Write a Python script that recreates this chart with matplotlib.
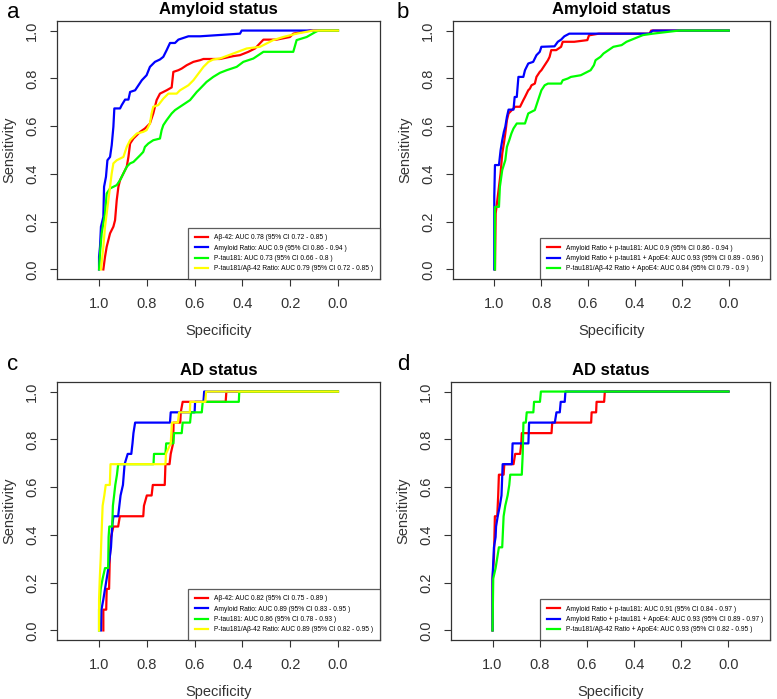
import matplotlib
matplotlib.use("Agg")
import matplotlib.pyplot as plt

plt.rcParams['font.family'] = ['Liberation Sans', 'DejaVu Sans']

# ---- panel a : Amyloid status, single markers ----
a_red_spec = [0.982, 0.975, 0.968, 0.954, 0.940, 0.933, 0.926, 0.919, 0.912, 0.898, 0.884, 0.877, 0.870, 0.856,
              0.828, 0.808, 0.801, 0.787, 0.780, 0.773, 0.766, 0.759, 0.745, 0.717, 0.696, 0.689, 0.668, 0.654,
              0.633, 0.619, 0.605, 0.577, 0.563, 0.494, 0.438, 0.410, 0.375, 0.347, 0.312, 0.257, 0.201, 0.187,
              0.117, 0.0]
a_red_sens = [0.0, 0.053, 0.095, 0.151, 0.179, 0.206, 0.290, 0.346, 0.374, 0.402, 0.430, 0.471, 0.527, 0.548,
              0.576, 0.590, 0.597, 0.611, 0.632, 0.653, 0.681, 0.709, 0.736, 0.750, 0.762, 0.827, 0.834, 0.841,
              0.855, 0.862, 0.869, 0.876, 0.881, 0.881, 0.893, 0.897, 0.911, 0.925, 0.962, 0.962, 0.973, 0.987,
              1.0, 1.0]
a_blue_spec = [1.0, 1.0, 0.996, 0.992, 0.982, 0.979, 0.971, 0.965, 0.954, 0.947, 0.940, 0.936, 0.912, 0.905,
               0.891, 0.877, 0.870, 0.849, 0.835, 0.821, 0.801, 0.787, 0.766, 0.745, 0.731, 0.717, 0.703, 0.682,
               0.668, 0.626, 0.577, 0.410, 0.403, 0.0]
a_blue_sens = [0.0, 0.053, 0.095, 0.179, 0.220, 0.346, 0.388, 0.457, 0.471, 0.520, 0.597, 0.674, 0.674, 0.688,
               0.711, 0.711, 0.743, 0.750, 0.771, 0.792, 0.813, 0.848, 0.869, 0.879, 0.890, 0.918, 0.948, 0.948,
               0.962, 0.976, 0.976, 0.987, 1.0, 1.0]
a_green_spec = [1.0, 0.996, 0.989, 0.975, 0.968, 0.954, 0.926, 0.912, 0.898, 0.884, 0.870, 0.856, 0.842, 0.828,
                0.815, 0.808, 0.794, 0.773, 0.745, 0.738, 0.731, 0.717, 0.696, 0.682, 0.661, 0.640, 0.619, 0.591,
                0.577, 0.550, 0.522, 0.494, 0.466, 0.424, 0.396, 0.354, 0.333, 0.312, 0.187, 0.173, 0.131, 0.096,
                0.082, 0.0]
a_green_sens = [0.0, 0.067, 0.151, 0.234, 0.318, 0.339, 0.353, 0.374, 0.402, 0.430, 0.444, 0.450, 0.464, 0.478,
                0.492, 0.513, 0.527, 0.541, 0.548, 0.583, 0.604, 0.625, 0.653, 0.667, 0.681, 0.695, 0.709, 0.743,
                0.757, 0.785, 0.806, 0.823, 0.834, 0.848, 0.869, 0.883, 0.897, 0.911, 0.911, 0.960, 0.973, 0.993,
                1.0, 1.0]
a_yellow_spec = [0.992, 0.982, 0.975, 0.968, 0.954, 0.947, 0.940, 0.926, 0.898, 0.884, 0.870, 0.842, 0.815, 0.801,
                 0.787, 0.780, 0.773, 0.752, 0.731, 0.710, 0.675, 0.661, 0.626, 0.605, 0.584, 0.563, 0.542, 0.522,
                 0.494, 0.438, 0.382, 0.326, 0.271, 0.229, 0.173, 0.103, 0.0]
a_yellow_sens = [0.0, 0.095, 0.179, 0.234, 0.346, 0.402, 0.444, 0.457, 0.471, 0.513, 0.541, 0.569, 0.576, 0.583,
                 0.611, 0.653, 0.681, 0.688, 0.715, 0.736, 0.736, 0.750, 0.771, 0.792, 0.820, 0.848, 0.869, 0.879,
                 0.883, 0.904, 0.925, 0.932, 0.960, 0.973, 0.987, 1.0, 1.0]
a_labels = ["A\u03b2-42: AUC 0.78 (95% CI 0.72 - 0.85 )",
            "Amyloid Ratio: AUC 0.9 (95% CI 0.86 - 0.94 )",
            "P-tau181: AUC 0.73 (95% CI 0.66 - 0.8 )",
            "P-tau181/A\u03b2-42 Ratio: AUC 0.79 (95% CI 0.72 - 0.85 )"]

# ---- panel b : Amyloid status, combined models ----
b_red_spec = [0.997, 0.994, 0.987, 0.980, 0.973, 0.966, 0.959, 0.953, 0.946, 0.939, 0.925, 0.911, 0.890, 0.876,
              0.869, 0.855, 0.848, 0.841, 0.827, 0.820, 0.806, 0.799, 0.785, 0.771, 0.764, 0.757, 0.736, 0.715,
              0.708, 0.659, 0.603, 0.596, 0.554, 0.338, 0.331, 0.0]
b_red_sens = [0.0, 0.234, 0.290, 0.346, 0.402, 0.485, 0.527, 0.569, 0.625, 0.653, 0.667, 0.681, 0.681, 0.709,
              0.722, 0.750, 0.757, 0.771, 0.778, 0.806, 0.827, 0.834, 0.855, 0.876, 0.890, 0.918, 0.918, 0.932,
              0.953, 0.953, 0.960, 0.980, 0.987, 0.987, 1.0, 1.0]
b_blue_spec = [1.0, 1.0, 0.997, 0.980, 0.973, 0.966, 0.959, 0.953, 0.946, 0.939, 0.918, 0.913, 0.904, 0.897,
               0.876, 0.869, 0.855, 0.834, 0.820, 0.806, 0.799, 0.743, 0.729, 0.715, 0.701, 0.680, 0.338, 0.324,
               0.0]
b_blue_sens = [0.0, 0.304, 0.437, 0.437, 0.499, 0.541, 0.576, 0.597, 0.639, 0.669, 0.669, 0.722, 0.722, 0.806,
               0.806, 0.834, 0.862, 0.869, 0.897, 0.911, 0.932, 0.934, 0.953, 0.962, 0.976, 0.987, 0.987, 1.0,
               1.0]
b_green_spec = [0.997, 0.997, 0.980, 0.976, 0.966, 0.953, 0.946, 0.936, 0.927, 0.918, 0.904, 0.869, 0.855, 0.827,
                0.813, 0.799, 0.785, 0.771, 0.715, 0.708, 0.687, 0.673, 0.631, 0.589, 0.575, 0.568, 0.547, 0.534,
                0.513, 0.492, 0.457, 0.436, 0.401, 0.366, 0.324, 0.212, 0.0]
b_green_sens = [0.0, 0.262, 0.262, 0.346, 0.416, 0.457, 0.513, 0.541, 0.569, 0.590, 0.611, 0.611, 0.653, 0.667,
                0.709, 0.750, 0.771, 0.778, 0.778, 0.792, 0.799, 0.806, 0.813, 0.834, 0.855, 0.876, 0.890, 0.904,
                0.918, 0.932, 0.939, 0.953, 0.967, 0.981, 0.987, 1.0, 1.0]
b_labels = ["Amyloid Ratio + p-tau181: AUC 0.9 (95% CI 0.86 - 0.94 )",
            "Amyloid Ratio + p-tau181 + ApoE4: AUC 0.93 (95% CI 0.89 - 0.96 )",
            "P-tau181/A\u03b2-42 Ratio + ApoE4: AUC 0.84 (95% CI 0.79 - 0.9 )"]

# ---- panel c : AD status, single markers ----
c_red_spec = [0.982, 0.982, 0.970, 0.968, 0.958, 0.955, 0.950, 0.940, 0.920, 0.913, 0.815, 0.812, 0.800, 0.780,
              0.775, 0.725, 0.722, 0.705, 0.700, 0.690, 0.688, 0.660, 0.658, 0.650, 0.470, 0.467, 0.0]
c_red_sens = [0.0, 0.087, 0.087, 0.174, 0.174, 0.304, 0.391, 0.435, 0.435, 0.478, 0.478, 0.522, 0.565, 0.565,
              0.609, 0.609, 0.696, 0.696, 0.739, 0.783, 0.870, 0.870, 0.913, 0.957, 0.957, 1.0, 1.0]
c_blue_spec = [0.992, 0.990, 0.982, 0.975, 0.968, 0.961, 0.950, 0.945, 0.940, 0.920, 0.915, 0.910, 0.900, 0.893,
               0.880, 0.865, 0.860, 0.856, 0.849, 0.703, 0.700, 0.600, 0.598, 0.563, 0.560, 0.0]
c_blue_sens = [0.0, 0.087, 0.130, 0.174, 0.217, 0.261, 0.348, 0.435, 0.478, 0.478, 0.522, 0.565, 0.609, 0.696,
               0.739, 0.739, 0.783, 0.826, 0.870, 0.870, 0.913, 0.913, 0.957, 0.957, 1.0, 1.0]
c_green_spec = [1.0, 1.0, 0.993, 0.985, 0.975, 0.962, 0.960, 0.957, 0.945, 0.942, 0.937, 0.932, 0.925, 0.920,
                0.772, 0.770, 0.722, 0.719, 0.689, 0.686, 0.654, 0.650, 0.619, 0.615, 0.570, 0.566, 0.415, 0.413,
                0.0]
c_green_sens = [0.0, 0.087, 0.174, 0.217, 0.261, 0.261, 0.391, 0.435, 0.435, 0.522, 0.565, 0.609, 0.652, 0.696,
                0.696, 0.739, 0.739, 0.783, 0.783, 0.826, 0.826, 0.870, 0.870, 0.913, 0.913, 0.957, 0.957, 1.0,
                1.0]
c_yellow_spec = [1.0, 1.0, 0.997, 0.993, 0.990, 0.985, 0.978, 0.972, 0.955, 0.952, 0.722, 0.720, 0.700, 0.695,
                 0.670, 0.665, 0.620, 0.618, 0.555, 0.552, 0.0]
c_yellow_sens = [0.0, 0.130, 0.217, 0.304, 0.391, 0.522, 0.565, 0.609, 0.609, 0.696, 0.696, 0.739, 0.783, 0.870,
                 0.870, 0.913, 0.913, 0.957, 0.957, 1.0, 1.0]
c_labels = ["A\u03b2-42: AUC 0.82 (95% CI 0.75 - 0.89 )",
            "Amyloid Ratio: AUC 0.89 (95% CI 0.83 - 0.95 )",
            "P-tau181: AUC 0.86 (95% CI 0.78 - 0.93 )",
            "P-tau181/A\u03b2-42 Ratio: AUC 0.89 (95% CI 0.82 - 0.95 )"]

# ---- panel d : AD status, combined models ----
d_red_spec = [1.0, 1.0, 0.994, 0.990, 0.980, 0.976, 0.973, 0.953, 0.950, 0.911, 0.904, 0.883, 0.878, 0.876,
              0.750, 0.747, 0.582, 0.580, 0.561, 0.559, 0.527, 0.524, 0.0]
d_red_sens = [0.0, 0.217, 0.304, 0.478, 0.478, 0.565, 0.652, 0.652, 0.696, 0.696, 0.739, 0.739, 0.783, 0.826,
              0.826, 0.870, 0.870, 0.913, 0.913, 0.957, 0.957, 1.0, 1.0]
d_blue_spec = [1.0, 1.0, 0.994, 0.987, 0.985, 0.978, 0.969, 0.962, 0.957, 0.918, 0.915, 0.848, 0.845, 0.736,
               0.729, 0.715, 0.711, 0.694, 0.691, 0.0]
d_blue_sens = [0.0, 0.217, 0.348, 0.391, 0.435, 0.478, 0.522, 0.565, 0.696, 0.696, 0.783, 0.783, 0.870, 0.870,
               0.913, 0.913, 0.957, 0.957, 1.0, 1.0]
d_green_spec = [1.0, 0.997, 0.987, 0.980, 0.973, 0.959, 0.955, 0.953, 0.946, 0.936, 0.929, 0.925, 0.876, 0.872,
                0.869, 0.859, 0.855, 0.827, 0.824, 0.799, 0.795, 0.0]
d_green_sens = [0.0, 0.217, 0.261, 0.304, 0.348, 0.348, 0.435, 0.478, 0.522, 0.565, 0.609, 0.652, 0.652, 0.739,
                0.870, 0.870, 0.913, 0.913, 0.957, 0.957, 1.0, 1.0]
d_labels = ["Amyloid Ratio + p-tau181: AUC 0.91 (95% CI 0.84 - 0.97 )",
            "Amyloid Ratio + p-tau181 + ApoE4: AUC 0.93 (95% CI 0.89 - 0.97 )",
            "P-tau181/A\u03b2-42 Ratio + ApoE4: AUC 0.93 (95% CI 0.82 - 0.95 )"]

colors4 = ['#FF0000', '#0000FF', '#00FF00', '#FFFF00']
colors3 = ['#FF0000', '#0000FF', '#00FF00']

W, H = 777, 699
fig = plt.figure(figsize=(W / 100, H / 100), dpi=100)


def px_axes(left, top, right, bottom):
    # axes placed from pixel box of the reference
    return fig.add_axes([left / W, 1 - bottom / H, (right - left) / W, (bottom - top) / H])


def roc_panel(ax, curves, labels, colors, title):
    for (sp, se), col, lab in zip(curves, colors, labels):
        ax.plot(sp, se, color=col, lw=1.6, label=lab)
    ax.set_xlim(1.176, -0.176)
    ax.set_ylim(-0.04, 1.04)
    ticks = [1.0, 0.8, 0.6, 0.4, 0.2, 0.0]
    ax.set_xticks(ticks)
    ax.set_xticklabels(['%.1f' % t for t in ticks], fontsize=10.5, color='#333333')
    ax.set_yticks(ticks)
    ax.set_yticklabels(['%.1f' % t for t in ticks], fontsize=10.5, rotation=90, va='center', color='#333333')
    ax.tick_params(direction='out', length=5, width=0.8, pad=8, color='#333333')
    ax.set_xlabel('Specificity', fontsize=10.5, labelpad=9, color='#333333')
    ax.set_ylabel('Sensitivity', fontsize=10.5, labelpad=6, color='#333333')
    ax.set_title(title, fontsize=12, fontweight='bold', pad=5)
    for s in ax.spines.values():
        s.set_linewidth(0.9)
        s.set_color('#333333')
    leg = ax.legend(loc='lower right', fontsize=4.8, frameon=True, fancybox=False,
                    borderaxespad=0, handlelength=2.0, labelspacing=0.5,
                    borderpad=1.0, handletextpad=0.9)
    leg.get_frame().set_edgecolor('#333333')
    leg.get_frame().set_linewidth(0.9)


ax_a = px_axes(57, 21, 380, 279)
roc_panel(ax_a, [(a_red_spec, a_red_sens), (a_blue_spec, a_blue_sens),
                 (a_green_spec, a_green_sens), (a_yellow_spec, a_yellow_sens)],
          a_labels, colors4, 'Amyloid status')

ax_b = px_axes(453, 21, 770, 279)
roc_panel(ax_b, [(b_red_spec, b_red_sens), (b_blue_spec, b_blue_sens), (b_green_spec, b_green_sens)],
          b_labels, colors3, 'Amyloid status')

ax_c = px_axes(57, 382, 380, 640)
roc_panel(ax_c, [(c_red_spec, c_red_sens), (c_blue_spec, c_blue_sens),
                 (c_green_spec, c_green_sens), (c_yellow_spec, c_yellow_sens)],
          c_labels, colors4, 'AD status')

ax_d = px_axes(451, 382, 770, 640)
roc_panel(ax_d, [(d_red_spec, d_red_sens), (d_blue_spec, d_blue_sens), (d_green_spec, d_green_sens)],
          d_labels, colors3, 'AD status')

for letter, x, y in [('a', 13, 13), ('b', 403, 13), ('c', 13, 365), ('d', 403, 365)]:
    fig.text(x / W, 1 - y / H, letter, fontsize=16, ha='center', va='center')

fig.savefig('out.png', dpi=100)
